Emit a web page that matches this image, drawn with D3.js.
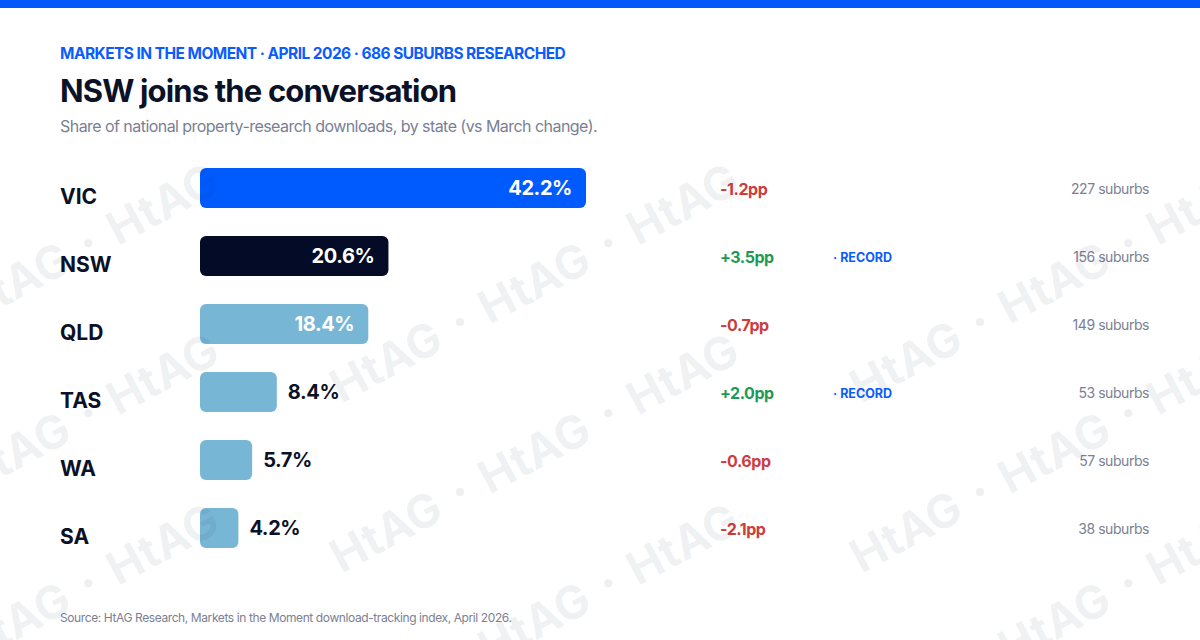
<!DOCTYPE html>
<html>
<head>
<meta charset="utf-8">
<script src="https://cdn.jsdelivr.net/npm/d3@7"></script>
<style>
  body { margin: 0; background: #fff; }
  svg { display: block; font-family: Inter, 'Noto Sans', sans-serif; }
</style>
</head>
<body>
<div id="chart"></div>
<script>
const states = ['VIC', 'NSW', 'QLD', 'TAS', 'WA', 'SA']
const shares = [42.2, 20.6, 18.4, 8.4, 5.7, 4.2]
const changes = [-1.2, 3.5, -0.7, 2.0, -0.6, -2.1]
const suburbs = [227, 156, 149, 53, 57, 38]
const records = [false, true, false, true, false, false]

const rows = states.map((s, i) => ({
  state: s,
  share: shares[i],
  change: changes[i],
  suburbs: suburbs[i],
  record: records[i]
}))

const width = 1200
const height = 640
const barLeft = 200

const svg = d3.select('#chart')
  .append('svg')
  .attr('width', width)
  .attr('height', height)

// top accent strip
svg.append('rect')
  .attr('width', width)
  .attr('height', 8)
  .attr('fill', '#0057ff')

svg.append('text')
  .attr('x', 60).attr('y', 59)
  .attr('font-size', 15.5).attr('font-weight', 700)
  .attr('fill', '#0a5cff')
  .attr('letter-spacing', -0.55)
  .text('MARKETS IN THE MOMENT · APRIL 2026 · 686 SUBURBS RESEARCHED')

svg.append('text')
  .attr('x', 60).attr('y', 102)
  .attr('font-size', 31).attr('font-weight', 700)
  .attr('fill', '#0b1126')
  .attr('letter-spacing', -0.85)
  .text('NSW joins the conversation')

svg.append('text')
  .attr('x', 60).attr('y', 132)
  .attr('font-size', 16)
  .attr('fill', '#7a8094')
  .attr('letter-spacing', -0.55)
  .text('Share of national property-research downloads, by state (vs March change).')

const x = d3.scaleLinear()
  .domain([0, d3.max(shares)])
  .range([0, 386])

const y = d3.scaleBand()
  .domain(states)
  .range([154, 154 + 68 * states.length])
  .paddingInner(28 / 68)
  .paddingOuter(14 / 68)

const fillFor = d => d.state === 'VIC' ? '#005bff' : d.state === 'NSW' ? '#040b26' : '#78b6d6'

const row = svg.append('g')
  .selectAll('g')
  .data(rows)
  .join('g')
  .attr('transform', d => `translate(0, ${y(d.state)})`)

const bh = y.bandwidth()

row.append('text')
  .attr('x', 60)
  .attr('y', bh / 2 + 16)
  .attr('font-size', 21).attr('font-weight', 700)
  .attr('fill', '#0b1126')
  .text(d => d.state)

row.append('rect')
  .attr('x', barLeft)
  .attr('width', d => x(d.share))
  .attr('height', bh)
  .attr('rx', 6)
  .attr('fill', fillFor)

const inside = d => x(d.share) > 100

row.append('text')
  .attr('x', d => inside(d) ? barLeft + x(d.share) - 14 : barLeft + x(d.share) + 11)
  .attr('y', bh / 2 + 7)
  .attr('text-anchor', d => inside(d) ? 'end' : 'start')
  .attr('font-size', 20).attr('font-weight', 700)
  .attr('letter-spacing', -0.4)
  .attr('fill', d => inside(d) ? '#fff' : '#0b1126')
  .text(d => d.share.toFixed(1) + '%')

row.append('text')
  .attr('x', 720)
  .attr('y', bh / 2 + 7)
  .attr('font-size', 16).attr('font-weight', 700)
  .attr('letter-spacing', -0.45)
  .attr('fill', d => d.change < 0 ? '#cc3d3d' : '#1f9a55')
  .text(d => (d.change > 0 ? '+' : '') + d.change.toFixed(1) + 'pp')

row.filter(d => d.record)
  .append('text')
  .attr('x', 833)
  .attr('y', bh / 2 + 6)
  .attr('font-size', 12.5).attr('font-weight', 700)
  .attr('fill', '#0a5cff')
  .text('· RECORD')

row.append('text')
  .attr('x', 1149)
  .attr('y', bh / 2 + 6)
  .attr('text-anchor', 'end')
  .attr('font-size', 14)
  .attr('letter-spacing', -0.45)
  .attr('fill', '#7a8094')
  .text(d => d.suburbs + ' suburbs')

svg.append('text')
  .attr('x', 60).attr('y', 622)
  .attr('font-size', 12)
  .attr('fill', '#7a8094')
  .attr('letter-spacing', -0.4)
  .text('Source: HtAG Research, Markets in the Moment download-tracking index, April 2026.')

// watermark: rows of "HtAG · HtAG · HtAG" tilted, tiled 520 x 170
const wm = svg.append('g').attr('pointer-events', 'none')
const ang = -28
const ux = Math.cos(ang * Math.PI / 180)
const uy = Math.sin(ang * Math.PI / 180)
const step = 168
for (let i = -1; i <= 2; i++) {
  for (let j = 0; j <= 2; j++) {
    const px = 460 + 520 * i
    const py = 322 + 170 * j
    ;[-0.5, 0.5, 1.5].forEach(k => {
      const cx = px + k * step * ux
      const cy = py + k * step * uy
      wm.append('text')
        .attr('transform', `translate(${cx}, ${cy}) rotate(${ang})`)
        .attr('text-anchor', 'middle')
        .attr('dy', '0.36em')
        .attr('font-size', 46).attr('font-weight', 700)
        .attr('fill', '#1a2440')
        .attr('fill-opacity', 0.075)
        .text('HtAG')
    })
    ;[0, 1].forEach(k => {
      wm.append('circle')
        .attr('cx', px + k * step * ux)
        .attr('cy', py + k * step * uy)
        .attr('r', 4)
        .attr('fill', '#1a2440')
        .attr('fill-opacity', 0.075)
    })
  }
}
</script>
</body>
</html>
